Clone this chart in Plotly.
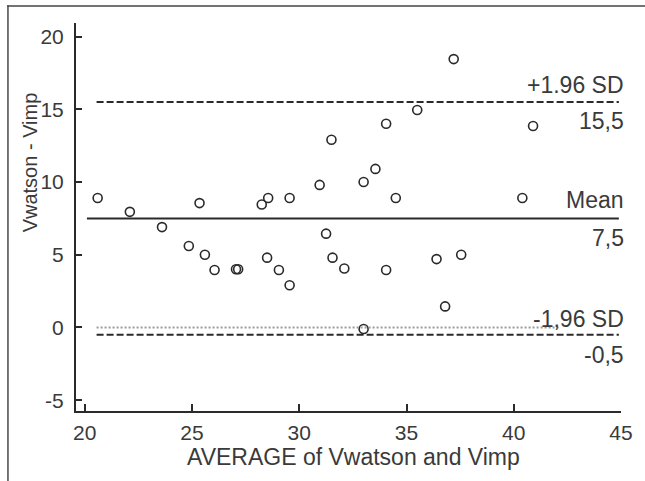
import plotly.graph_objects as go

# ---- data ----
avg_values = [20.6, 22.1, 23.6, 25.35, 24.85, 25.6, 26.05, 27.05, 27.15,
              28.25, 28.55, 29.55, 30.95, 31.25, 28.5, 29.05, 29.55, 31.55,
              32.1, 31.5, 34.05, 35.5, 33.55, 33.0, 34.5, 34.05, 36.4,
              37.55, 36.8, 33.0, 37.2, 40.9, 40.4]
diff_values = [8.9, 7.95, 6.9, 8.55, 5.6, 5.0, 3.95, 4.0, 4.0,
               8.45, 8.9, 8.9, 9.8, 6.45, 4.8, 3.95, 2.9, 4.8,
               4.05, 12.9, 14.0, 14.95, 10.9, 10.0, 8.9, 3.95, 4.7,
               5.0, 1.45, -0.1, 18.45, 13.85, 8.9]

mean_diff = 7.5
upper_loa = 15.5
lower_loa = -0.5
zero_line = 0

x_ticks = [20, 25, 30, 35, 40, 45]
y_ticks = [-5, 0, 5, 10, 15, 20]
y_tick_labels = ["-5", "0", "5", "10", "15", "20"]

label_upper = "+1.96 SD"
label_upper_val = "15,5"
label_mean = "Mean"
label_mean_val = "7,5"
label_lower = "-1,96 SD"
label_lower_val = "-0,5"

x_title = "AVERAGE of Vwatson and Vimp"
y_title = "Vwatson - Vimp"

# ---- style ----
FONT = "Liberation Sans, Arial, sans-serif"
TXT = "#3a3a3a"
LN = "#2a2a2a"

fig = go.Figure()

fig.add_trace(go.Scatter(
    x=avg_values, y=diff_values, mode="markers",
    marker=dict(symbol="circle-open", size=9, color=LN, line=dict(width=1.6, color=LN)),
    showlegend=False, hoverinfo="skip"))

x0_line, x1_line = 20.55, 44.9
# mean line
fig.add_shape(type="line", xref="x", yref="y", x0=20.1, x1=x1_line, y0=mean_diff, y1=mean_diff,
              line=dict(color=LN, width=2))
# limits of agreement
for v in (upper_loa, lower_loa):
    fig.add_shape(type="line", xref="x", yref="y", x0=x0_line, x1=x1_line, y0=v, y1=v,
                  line=dict(color=LN, width=2, dash="7px,3px"))
# zero dotted line
fig.add_shape(type="line", xref="x", yref="y", x0=x0_line, x1=42.1, y0=zero_line, y1=zero_line,
              line=dict(color="#9a9a9a", width=2, dash="2px,2px"))

# image frame: top edge and left edge, drawn as thin filled rectangles (no stroke)
fig.add_shape(type="rect", xref="paper", yref="paper",
              x0=-0.1262, x1=1.05, y0=1.0419, y1=1.0457,
              fillcolor="#444", line=dict(width=0))
fig.add_shape(type="rect", xref="paper", yref="paper",
              x0=-0.1262, x1=-0.1235, y0=-0.2, y1=1.0457,
              fillcolor="#444", line=dict(width=0))

def lab(text, y, shift):
    fig.add_annotation(x=45, y=y, xref="x", yref="y", text=text, showarrow=False,
                       xanchor="right", yanchor="middle", xshift=5, yshift=shift,
                       font=dict(family=FONT, size=23, color=TXT))

lab(label_upper, upper_loa, 17)
lab(label_upper_val, upper_loa, -19)
lab(label_mean, mean_diff, 18)
lab(label_mean_val, mean_diff, -20)
lab(label_lower, lower_loa, 16)
lab(label_lower_val, lower_loa, -20)

fig.add_annotation(x=0.509, y=-0.118, xref="paper", yref="paper", text=x_title, showarrow=False,
                   xanchor="center", yanchor="middle", font=dict(family=FONT, size=23, color=TXT))
fig.add_annotation(x=-0.085, y=0.64, xref="paper", yref="paper", text=y_title, showarrow=False,
                   textangle=-90, xanchor="center", yanchor="middle",
                   font=dict(family=FONT, size=20, color=TXT))

fig.update_xaxes(range=[19.59, 45.0], tickvals=x_ticks, ticks="inside", ticklen=7, tickwidth=2,
                 tickcolor=LN, showline=True, linecolor=LN, linewidth=2, showgrid=False,
                 zeroline=False, tickfont=dict(family=FONT, size=21, color=TXT),
                 ticklabelstandoff=2)
fig.update_yaxes(range=[-5.74, 20.93], tickvals=y_ticks, ticktext=y_tick_labels,
                 ticks="inside", ticklen=6, tickwidth=2,
                 tickcolor=LN, showline=True, linecolor=LN, linewidth=2, showgrid=False,
                 zeroline=False, tickfont=dict(family=FONT, size=21, color=TXT),
                 ticklabelstandoff=6)

fig.update_layout(width=645, height=481, margin=dict(l=76, r=15, t=23, b=70),
                  plot_bgcolor="white", paper_bgcolor="white", showlegend=False)

fig.write_html("out.html", config={"displayModeBar": False})
